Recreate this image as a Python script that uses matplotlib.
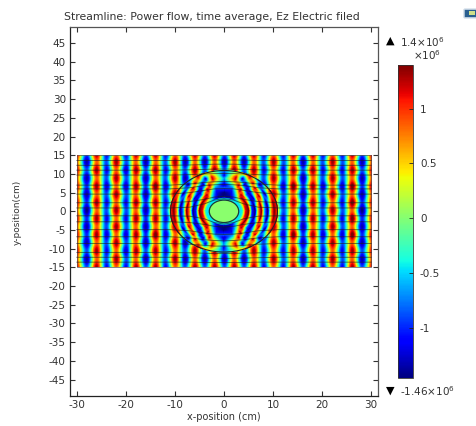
import numpy as np
import matplotlib
matplotlib.use("Agg")
import matplotlib.pyplot as plt
from matplotlib.patches import Circle, Rectangle, FancyBboxPatch
from matplotlib.colors import Normalize
from matplotlib.cm import ScalarMappable

plt.rcParams['font.family'] = ['DejaVu Sans']
plt.rcParams['axes.unicode_minus'] = False
plt.rcParams['mathtext.default'] = 'regular'

title = "Streamline: Power flow, time average, Ez Electric filed"
x_label = "x-position (cm)"
y_label = "y-position(cm)"
x_ticks = [-30, -20, -10, 0, 10, 20, 30]
y_ticks = [45, 40, 35, 30, 25, 20, 15, 10, 5, 0, -5, -10, -15, -20, -25, -30, -35, -40, -45]
cbar_ticks = [-1e6, -0.5e6, 0, 0.5e6, 1e6]
cbar_labels = ["-1", "-0.5", "0", "0.5", "1"]
field_min = -1.46e6
field_max = 1.4e6

# Ez, in units of 1e5, x = -30..30 step 2, rows y = 15 .. -15
field_x = list(range(-30, 31, 2))
field_y = [15, 12.86, 10.71, 8.57, 6.43, 4.29, 2.14, 0, -2.14, -4.29, -6.43, -8.57, -10.71, -12.86, -15]
row_15  = [11,-8, 12,-10, 8,-10,12,-8,12,-10, 8,-8, 12,-8,12,-8,12,-8,12,-10, 8,-10,12,-8,12,-10, 8,-10,12,-8,11]
row_13  = [ 8,-12,8,-8,12,-8, 8,-12,8,-8, 12,-12,8,-12,8,-12,8,-12,8,-8,12,-8, 8,-12,8,-8, 12,-8, 8,-12,9]
row_11  = [11,-8, 12,-10,8,-11,12,-8,12,-10,8,-8, 12,-8,12,-8,12,-8,12,-10,8,-10,12,-8,12,-10,8,-10,12,-8,11]
row_9   = [ 8,-12,8,-8,12,-8, 8,-12,8,-8, 12,-12,8,-12,8,-12,8,-12,8,-8,12,-8, 8,-12,8,-8, 12,-8, 8,-12,9]
row_6   = [11,-9, 12,-11,8,-11,12,-9,13,-11,8,-8, 12,-8,12,-8,12,-8,12,-11,8,-11,13,-9,12,-11,8,-11,13,-9,12]
row_4   = [ 8,-12,8,-8,12,-8, 8,-12,8,-8, 12,-12,8,-12,8,-12,8,-12,8,-8,12,-8, 8,-12,8,-8, 12,-8, 8,-12,9]
row_2   = [11,-9, 12,-10,8,-10,12,-9,12,-10,8,-8, 12,-8,12,-8,12,-8,12,-10,8,-10,12,-9,12,-10,8,-10,13,-9,11]
row_0   = [ 8,-13,8,-8,12,-8, 8,-12,8,-8, 12,-12,8,-12,8,-12,8,-12,8,-8,12,-8, 8,-12,8,-8, 12,-8, 8,-13,9]
field_rows = [row_15, row_13, row_11, row_9, row_6, row_4, row_2, row_0, row_2, row_4, row_6, row_9, row_11, row_13, row_15]

lens_r = [3.2, 3.85, 4.5, 5.15, 5.8, 6.45, 7.1, 7.75, 8.4, 9.05, 9.7, 10.35, 11.0]
lens_angle = [0, 15, 30, 45, 52, 60, 67, 75, 90]
lens_0  = [-4, -3, 10, 13, -9, -13, 6, 13, -6, -13, 6, 13, 8]
lens_15 = [-4, -3, 10, 13, -7, -13, 3, 13, -2, -13, 1, 12, 10]
lens_30 = [-5, -3, 7, 13, 0, -11, -11, 7, 12, -4, -13, 3, 12]
lens_45 = [-6, -4, 3, 12, 9, -6, -12, -9, 7, 12, -4, -13, -8]
lens_52 = [-7, -5, -1, 8, 12, 6, -7, -12, -8, 3, 12, 5, -7]
lens_60 = [-8, -8, -6, -2, 5, 11, 11, -3, -12, -9, 1, 9, 12]
lens_67 = [-9, -11, -9, -7, -4, 1, 8, 12, 6, -7, -12, -5, 8]
lens_75 = [-9, -12, -12, -11, -10, -8, -4, 1, 7, 11, 11, 6, 2]
lens_90 = [-6, -11, -13, -13, -10, -7, -11, -10, -7, -6, -10, -9, -7]
lens_rows = [lens_0, lens_15, lens_30, lens_45, lens_52, lens_60, lens_67, lens_75, lens_90]
lens_radius = 10.9
core_radius = 3.0
core_value = 0.02e6

stream_x = [-30, -11, -7, -4, -2, 0]
stream_rows = [
    [13.6, 13.6, 13.6, 13.7, 13.7, 13.7],
    [12.3, 12.3, 12.4, 12.5, 12.6, 12.6],
    [11.0, 11.0, 11.1, 11.2, 11.3, 11.3],
    [9.7, 9.7, 9.8, 10.0, 10.1, 10.1],
    [7.0, 7.0, 7.3, 7.7, 7.9, 8.0],
    [6.0, 6.0, 6.3, 6.9, 7.1, 7.2],
    [4.6, 4.6, 5.0, 5.6, 6.0, 6.1],
    [2.3, 2.3, 2.6, 3.2, 3.8, 4.0],
    [0.9, 0.9, 1.1, 2.0, 3.0, 3.4],
    [-1.2, -1.2, -1.3, -2.0, -3.0, -3.4],
    [-2.8, -2.8, -3.0, -3.5, -4.0, -4.2],
    [-4.9, -4.9, -5.2, -5.8, -6.1, -6.2],
    [-6.8, -6.8, -7.1, -7.6, -7.8, -7.9],
    [-8.6, -8.6, -8.8, -9.1, -9.3, -9.3],
    [-11.0, -11.0, -11.1, -11.2, -11.3, -11.3],
    [-12.3, -12.3, -12.4, -12.5, -12.6, -12.6],
    [-13.6, -13.6, -13.6, -13.7, -13.7, -13.7],
]

W, H = 477, 426
fig = plt.figure(figsize=(W / 100, H / 100), dpi=100, facecolor='white')
ink = '#333333'
ax = fig.add_axes([70 / W, 1 - 396 / H, 308 / W, 369 / H])

cmap = plt.get_cmap('jet')
norm = Normalize(field_min, field_max)
plot_norm = Normalize(-1.3e6, 1.26e6)

Z = np.array(field_rows, dtype=float) * 1e5
dx = 1.0
dy = (field_y[0] - field_y[1]) / 2
im = ax.imshow(Z, extent=[field_x[0] - dx, field_x[-1] + dx, field_y[-1] - dy, field_y[0] + dy],
               cmap=cmap, norm=plot_norm, interpolation='catrom', interpolation_stage='data',
               aspect='auto', zorder=1)
im.set_clip_path(Rectangle((-30, -15), 60, 30, transform=ax.transData))
ax.set_xlim(-31.4, 31.4)
ax.set_ylim(-49.4, 49.3)
ax.add_patch(Rectangle((-30, -15), 60, 30, fill=False, ec='#555555', lw=0.5, zorder=2))

# Lens: draw the read quadrant table on a polar mesh, mirrored into four quadrants
quad = np.array(lens_rows, dtype=float) * 1e5
r_fine = np.linspace(lens_r[0], lens_radius, 120)
a_fine = np.linspace(0, 90, 120)
by_r = np.array([np.interp(r_fine, lens_r, row) for row in quad])
fine = np.array([np.interp(a_fine, lens_angle, by_r[:, j]) for j in range(len(r_fine))])
for sx, sy in [(1, 1), (-1, 1), (-1, -1), (1, -1)]:
    X = sx * np.outer(r_fine, np.cos(np.deg2rad(a_fine)))
    Y = sy * np.outer(r_fine, np.sin(np.deg2rad(a_fine)))
    ax.pcolormesh(X, Y, fine, cmap=cmap, norm=plot_norm, shading='gouraud', zorder=3, rasterized=True)

# Core
ax.add_patch(Circle((0, 0), 3.6, fc=cmap(norm(-0.45e6)), ec='none', zorder=4))
ax.add_patch(Circle((0, 0), core_radius, fc=cmap(norm(core_value)), ec='#1a3a3a', lw=0.9, zorder=5))
ax.add_patch(Circle((0, 0), lens_radius, fill=False, ec='#222222', lw=0.8, zorder=6))

# Streamlines
sx_full = np.array(stream_x + [-v for v in stream_x[-2::-1]], dtype=float)
for row in stream_rows:
    ax.plot(sx_full, row + row[-2::-1], color='#1c1c1c', lw=0.7, alpha=0.6, zorder=7)

ax.set_xticks(x_ticks)
ax.set_yticks(y_ticks)
ax.tick_params(axis='both', direction='in', length=3.5, width=0.8, top=True, right=True,
               labelsize=7.5, colors=ink, pad=3)
ax.set_xticklabels([str(v) for v in x_ticks])
ax.set_yticklabels([str(v) for v in y_ticks])
for s in ax.spines.values():
    s.set_color('#555555')
    s.set_linewidth(0.9)
ax.spines['left'].set_color('#222222')
ax.spines['bottom'].set_color('#222222')

fig.text(212 / W, 1 - 17 / H, title, ha='center', va='center', fontsize=7.8, color=ink)
fig.text(224 / W, 1 - 417 / H, x_label, ha='center', va='center', fontsize=7, color=ink)
fig.text(17 / W, 1 - 212 / H, y_label, ha='center', va='center', rotation=90, fontsize=6.5, color=ink)

# Colour bar
cax = fig.add_axes([398 / W, 1 - 378 / H, 15 / W, 313 / H])
cb = fig.colorbar(ScalarMappable(norm=norm, cmap=cmap), cax=cax)
cb.set_ticks(cbar_ticks)
cb.set_ticklabels(cbar_labels)
cb.ax.tick_params(direction='in', length=3, width=0.6, colors=ink, labelsize=7.5, pad=5)
cb.ax.tick_params(axis='y', color='#222222')
cb.outline.set_edgecolor('#333333')
cb.outline.set_linewidth(0.6)

fig.text(390 / W, 1 - 41 / H, "\u25B2", ha='center', va='center', fontsize=8, color='black')
fig.text(400 / W, 1 - 42 / H, "1.4\u00d710$^{6}$", ha='left', va='center', fontsize=7.5, color=ink)
fig.text(413 / W, 1 - 55 / H, "\u00d710$^{6}$", ha='left', va='center', fontsize=7.5, color=ink)
fig.text(390 / W, 1 - 391 / H, "\u25BC", ha='center', va='center', fontsize=8, color='black')
fig.text(400 / W, 1 - 391 / H, "-1.46\u00d710$^{6}$", ha='left', va='center', fontsize=7.5, color=ink)

# Small window icon, top right
fig.add_artist(FancyBboxPatch((465 / W, 1 - 17 / H), 11 / W, 7 / H, boxstyle="round,pad=0.002",
                              transform=fig.transFigure, fc='#2a5f8f', ec='#c8d6e4', lw=1))
fig.add_artist(Rectangle((469 / W, 1 - 15 / H), 6 / W, 4 / H, transform=fig.transFigure,
                         fc='#cfe08a', ec='none'))

fig.savefig('out.png', dpi=100)
